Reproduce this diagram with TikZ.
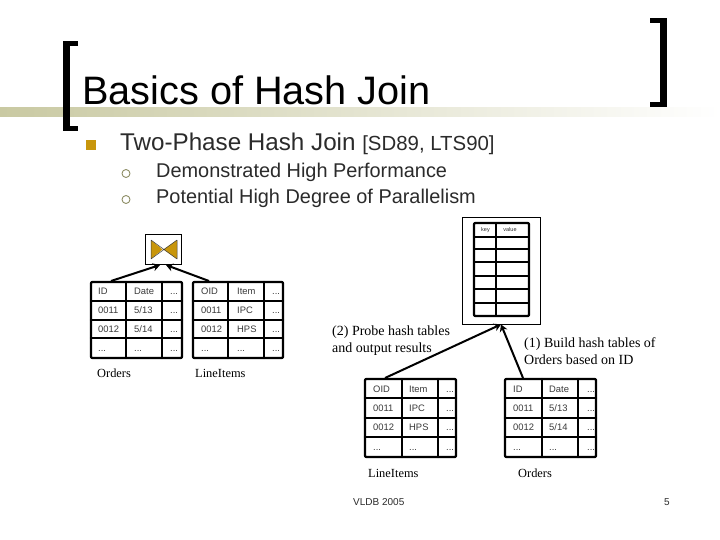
\documentclass[tikz,border=0pt]{standalone}
\usepackage{fontspec}
\setmainfont{Liberation Sans}
\newfontfamily\serifface{Liberation Serif}
\usetikzlibrary{arrows.meta}
\definecolor{bodyink}{HTML}{2B2B2B}
\definecolor{cellink}{HTML}{3A3A3A}
\definecolor{gold}{HTML}{C8960C}
\definecolor{olive}{HTML}{C9C9A2}
\definecolor{ring}{HTML}{8E8E66}
\tikzset{
  txt/.style={inner sep=0pt,anchor=base west,text=black},
  titletxt/.style={txt,font=\fontsize{39.7}{40}\selectfont},
  lvlone/.style={txt,text=bodyink,font=\fontsize{24.2}{25}\selectfont},
  lvltwo/.style={txt,text=bodyink,font=\fontsize{19.9}{24}\selectfont},
  celltxt/.style={inner sep=0pt,anchor=base west,yshift=-3.7pt,text=cellink,font=\fontsize{9.4}{10}\selectfont},
  tinytxt/.style={inner sep=0pt,text=bodyink,font=\fontsize{5.5}{6}\selectfont},
  caption/.style={txt,text=black,font=\serifface\fontsize{12.4}{14}\selectfont},
  notetxt/.style={txt,text=black,font=\serifface\fontsize{14}{16}\selectfont},
  footer/.style={txt,text=bodyink,font=\fontsize{10}{12}\selectfont},
  gridline/.style={draw=black,line width=2.2pt,line cap=round,line join=round},
  framebox/.style={draw=black,line width=0.8pt,fill=white},
  linkarrow/.style={draw=black,line width=2pt,-{Stealth[length=7pt,width=8pt]}},
  bracketline/.style={draw=black,line width=5pt,line cap=butt,line join=miter}
}
% x0,x1,x2,x3, y0,y1,y2,y3,y4
\newcommand{\gridtable}[9]{%
  \draw[gridline,rounded corners=1pt] (#1,#5) rectangle (#4,#9);
  \draw[gridline] (#2,#5) -- (#2,#9) (#3,#5) -- (#3,#9)
    (#1,#6) -- (#4,#6) (#1,#7) -- (#4,#7) (#1,#8) -- (#4,#8);
}
\newcommand{\ordercells}[8]{% xa xb xc y1 y2 y3 y4 prefix
  \node[celltxt] (#8a) at (#1,#4) {ID};
  \node[celltxt] (#8b) at (#2,#4) {Date};
  \node[celltxt] (#8c) at (#3,#4) {...};
  \node[celltxt] (#8d) at (#1,#5) {0011};
  \node[celltxt] (#8e) at (#2,#5) {5/13};
  \node[celltxt] (#8f) at (#3,#5) {...};
  \node[celltxt] (#8g) at (#1,#6) {0012};
  \node[celltxt] (#8h) at (#2,#6) {5/14};
  \node[celltxt] (#8i) at (#3,#6) {...};
  \node[celltxt] (#8j) at (#1,#7) {...};
  \node[celltxt] (#8k) at (#2,#7) {...};
  \node[celltxt] (#8l) at (#3,#7) {...};
}
\newcommand{\itemcells}[8]{%
  \node[celltxt] (#8a) at (#1,#4) {OID};
  \node[celltxt] (#8b) at (#2,#4) {Item};
  \node[celltxt] (#8c) at (#3,#4) {...};
  \node[celltxt] (#8d) at (#1,#5) {0011};
  \node[celltxt] (#8e) at (#2,#5) {IPC};
  \node[celltxt] (#8f) at (#3,#5) {...};
  \node[celltxt] (#8g) at (#1,#6) {0012};
  \node[celltxt] (#8h) at (#2,#6) {HPS};
  \node[celltxt] (#8i) at (#3,#6) {...};
  \node[celltxt] (#8j) at (#1,#7) {...};
  \node[celltxt] (#8k) at (#2,#7) {...};
  \node[celltxt] (#8l) at (#3,#7) {...};
}
\begin{document}
\begin{tikzpicture}[x=1pt,y=-1pt]
\useasboundingbox (0,0) rectangle (720,540);
\fill[white] (0,0) rectangle (720,540);
% band
\shade[left color=olive,right color=white,shading angle=90,draw=none] (0,108) rectangle (720,117);
% brackets
\draw[bracketline] (78,43.5) -- (66,43.5) (66,128.5) -- (78,128.5);
\fill[black] (63,41) rectangle (70,131);
\draw[bracketline] (650,20.5) -- (664,20.5) (664,104.5) -- (650,104.5);
\fill[black] (660,18) rectangle (667,107);
% title
\node[titletxt] (title) at (82,105) {Basics of Hash Join};
% bullets
\fill[gold] (86,140) rectangle (96,150);
\draw[ring,line width=0.9pt,fill=white] (126,173.5) circle (4);
\draw[ring,line width=0.9pt,fill=white] (126,199.5) circle (4);
\node[lvlone] (main) at (120,151) {Two-Phase Hash Join \fontsize{20.4}{24}\selectfont[SD89, LTS90]};
\node[lvltwo] (sub1) at (156,178) {Demonstrated High Performance};
\node[lvltwo] (sub2) at (156,204) {Potential High Degree of Parallelism};
% join operator
\node[framebox,minimum width=36pt,minimum height=30pt,inner sep=0pt] (joinbox) at (163,249) {};
\fill[gold] (151,240) -- (162.5,249.5) -- (151,259) -- cycle;
\fill[gold] (177,240) -- (163.5,249.5) -- (177,259) -- cycle;
\draw[black!75,line width=0.5pt] (151,240) -- (151,259) (177,240) -- (177,259)
  (151,240) -- (177,259) (151,259) -- (177,240);
% top-left tables
\gridtable{91}{126}{162}{182}{282}{301}{320}{338}{358}
\ordercells{98}{134}{170}{291}{310}{329}{348}{oa}
\gridtable{193}{228}{264}{283}{282}{301}{320}{338}{358}
\itemcells{201}{237}{272}{291}{310}{329}{348}{la}
\coordinate (ordersTop) at (111,281);
\coordinate (itemsTop) at (209,281);
\coordinate (joinL) at (160,265);
\coordinate (joinR) at (166,265);
\draw[linkarrow] (ordersTop) -- (joinL);
\draw[linkarrow] (itemsTop) -- (joinR);
\node[caption] (capO1) at (97,377) {Orders};
\node[caption] (capL1) at (195,377) {LineItems};
% hash table
\node[framebox,minimum width=78pt,minimum height=107pt,inner sep=0pt] (hashbox) at (501,270.5) {};
\draw[gridline,rounded corners=1pt] (474,223) rectangle (529,316);
\draw[gridline,line width=1.8pt] (496,223) -- (496,316)
  (474,237) -- (529,237) (474,249) -- (529,249) (474,262) -- (529,262)
  (474,276) -- (529,276) (474,289) -- (529,289) (474,303) -- (529,303);
\node[tinytxt] (hkey) at (485.5,230) {key};
\node[tinytxt] (hval) at (510,230) {value};
% bottom tables
\gridtable{365}{402}{438}{456}{379}{398}{418}{437}{457}
\itemcells{373}{409}{446}{389}{408}{427}{447}{lb}
\gridtable{505}{542}{578}{596}{379}{398}{418}{437}{457}
\ordercells{513}{549}{587}{389}{408}{427}{447}{ob}
\coordinate (itemsTopB) at (385,378);
\coordinate (ordersTopB) at (523,378);
\draw[linkarrow] (itemsTopB) -- (hashbox.south);
\draw[linkarrow] (ordersTopB) -- (hashbox.south);
\node[notetxt] (cap2a) at (332,335) {(2) Probe hash tables};
\node[notetxt] (cap2b) at (332,352) {and output results};
\node[notetxt] (cap1a) at (524,347) {(1) Build hash tables of};
\node[notetxt] (cap1b) at (524,364) {Orders based on ID};
\node[caption] (capL2) at (368,477) {LineItems};
\node[caption] (capO2) at (518,477) {Orders};
% footer
\node[footer] (venue) at (353,505) {VLDB 2005};
\node[footer] (pageno) at (664,505) {5};
\end{tikzpicture}
\end{document}
